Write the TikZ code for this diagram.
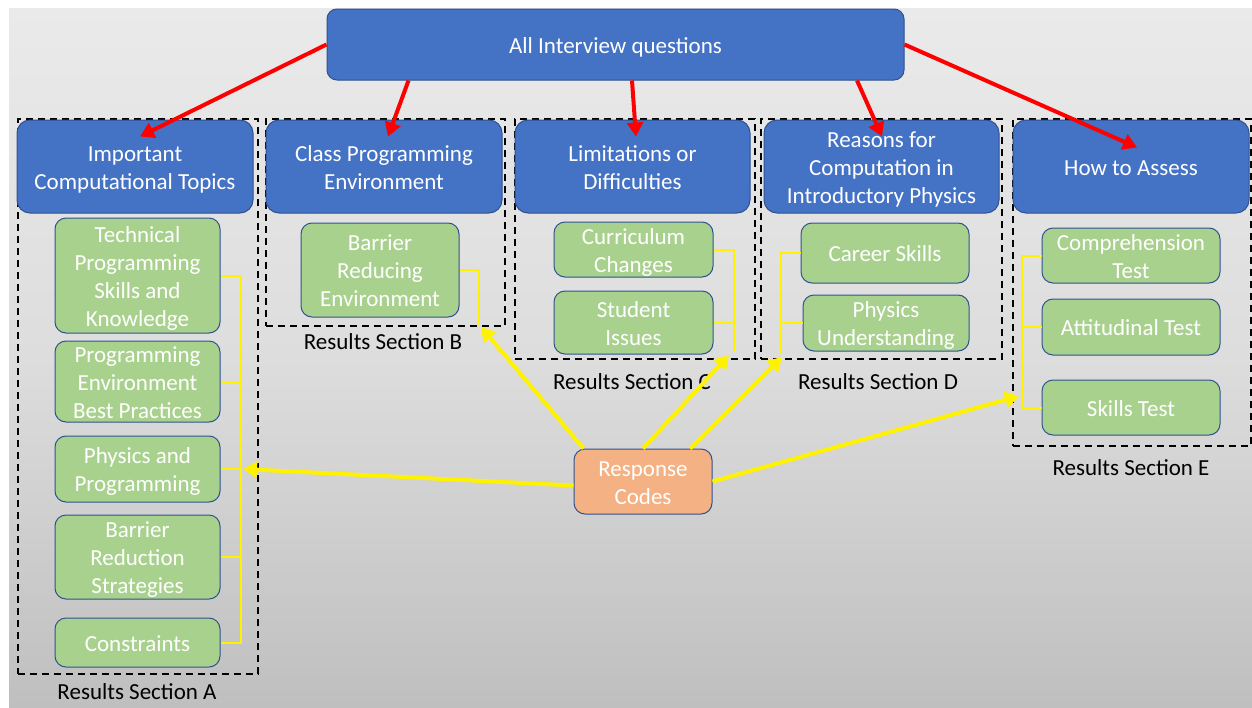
\documentclass[tikz,border=0pt]{standalone}
\usepackage{fontspec}
\setmainfont{Carlito}
\usetikzlibrary{arrows.meta}
\definecolor{hblue}{HTML}{4472C4}
\definecolor{hborder}{HTML}{2F528F}
\definecolor{gfill}{HTML}{A9D18E}
\definecolor{ofill}{HTML}{F4B183}
\definecolor{bgtop}{HTML}{EAEAEA}
\definecolor{bgmid}{HTML}{DDDDDD}
\definecolor{bgbot}{HTML}{BFBFBF}
\newcommand\lt[1]{\raisebox{0pt}[\height][\dimexpr\depth-6pt\relax]{\begin{tabular}{@{}c@{}}#1\end{tabular}}}
\begin{document}
\begin{tikzpicture}[x=1pt,y=-1pt,
  font=\fontsize{23}{28}\selectfont,
  header/.style={draw=hborder, line width=1pt, fill=hblue, text=white, rounded corners=13pt, inner sep=0pt},
  sub/.style={draw=hborder, line width=1pt, fill=gfill, text=white, rounded corners=11pt, inner sep=0pt},
  resp/.style={draw=hborder, line width=1pt, fill=ofill, text=white, rounded corners=11pt, inner sep=0pt},
  frame/.style={draw=black, line width=2pt, dash pattern=on 7pt off 5pt, inner sep=0pt, anchor=north west},
  redarrow/.style={draw=red, line width=4pt, -{Triangle[length=14pt,width=16pt]}},
  yarrow/.style={draw=yellow, line width=4pt, -{Triangle[length=14pt,width=16pt]}},
  bracket/.style={draw=yellow, line width=2pt},
  seclabel/.style={text=black, inner sep=0pt}]

\useasboundingbox (0,0) rectangle (1252,707);
\fill[white] (0,0) rectangle (1252,707);
\shade[top color=bgtop, bottom color=bgbot, middle color=bgmid] (9,8) rectangle (1252,707);

% frames
\node[frame, minimum width=240pt, minimum height=555pt] (fA) at (17,118) {};
\node[frame, minimum width=239pt, minimum height=207pt] (fB) at (265,118) {};
\node[frame, minimum width=240pt, minimum height=240pt] (fC) at (514,118) {};
\node[frame, minimum width=241pt, minimum height=240pt] (fD) at (760,118) {};
\node[frame, minimum width=238pt, minimum height=327pt] (fE) at (1012,118) {};

% section labels
\node[seclabel] (lA) at (137,692) {Results Section A};
\node[seclabel] (lB) at (383,342) {Results Section B};
\node[seclabel] (lC) at (632,382) {Results Section C};
\node[seclabel] (lD) at (878,382) {Results Section D};
\node[seclabel] (lE) at (1131,468) {Results Section E};

% top
\node[header, rounded corners=10pt, minimum width=577pt, minimum height=71pt] (top) at (615.5,44.5) {\lt{All Interview questions}};

% headers
\node[header, minimum width=236pt, minimum height=93pt] (hA) at (135,166.5) {\lt{Important\\Computational Topics}};
\node[header, minimum width=236pt, minimum height=93pt] (hB) at (384,166.5) {\lt{Class Programming\\Environment}};
\node[header, minimum width=235pt, minimum height=93pt] (hC) at (632.5,166.5) {\lt{Limitations or\\Difficulties}};
\node[header, minimum width=235pt, minimum height=93pt] (hD) at (881.5,166.5) {\lt{Reasons for\\Computation in\\Introductory Physics}};
\node[header, minimum width=236pt, minimum height=93pt] (hE) at (1131,166.5) {\lt{How to Assess}};

% A column
\node[sub, minimum width=165pt, minimum height=115pt] (tp) at (137.5,275.5) {\lt{Technical\\Programming\\Skills and\\Knowledge}};
\node[sub, minimum width=165pt, minimum height=81pt] (pe) at (137.5,381.5) {\lt{Programming\\Environment\\Best Practices}};
\node[sub, minimum width=165pt, minimum height=66pt] (pp) at (137.5,469) {\lt{Physics and\\Programming}};
\node[sub, minimum width=165pt, minimum height=84pt] (br) at (137.5,557) {\lt{Barrier\\Reduction\\Strategies}};
\node[sub, minimum width=165pt, minimum height=49pt] (con) at (137.5,642.5) {\lt{Constraints}};

% B
\node[sub, minimum width=158pt, minimum height=94pt] (bre) at (380,270) {\lt{Barrier\\Reducing\\Environment}};

% C
\node[sub, minimum width=159pt, minimum height=55pt] (cc) at (633.5,249.5) {\lt{Curriculum\\Changes}};
\node[sub, minimum width=159pt, minimum height=63pt] (si) at (633.5,322.5) {\lt{Student\\Issues}};

% D
\node[sub, minimum width=168pt, minimum height=60pt] (cs) at (885,253) {\lt{Career Skills}};
\node[sub, minimum width=166pt, minimum height=56pt] (pu) at (886,323) {\lt{Physics\\Understanding}};

% E
\node[sub, minimum width=178pt, minimum height=55pt] (ct) at (1131,255.5) {\lt{Comprehension\\Test}};
\node[sub, minimum width=178pt, minimum height=56pt] (at) at (1131,327) {\lt{Attitudinal Test}};
\node[sub, minimum width=178pt, minimum height=55pt] (st) at (1131,407.5) {\lt{Skills Test}};

% response codes
\node[resp, minimum width=138pt, minimum height=65pt] (rc) at (643,481.5) {\lt{Response\\Codes}};

% brackets
\coordinate (xa) at (241,0);
\draw[bracket] (tp.east) -- (tp.east -| xa) -- (con.east -| xa) -- (con.east);
\foreach \n in {pe,pp,br} \draw[bracket] (\n.east) -- (\n.east -| xa);

\coordinate (xb) at (479,325);
\draw[bracket] (bre.east) -| (xb);

\coordinate (xc) at (734,351);
\draw[bracket] (cc.east) -| (xc);
\draw[bracket] (si.east) -- (si.east -| xc);

\coordinate (xd) at (781,354);
\draw[bracket] (cs.west) -| (xd);
\draw[bracket] (pu.west) -- (pu.west -| xd);

\coordinate (xe) at (1022,0);
\draw[bracket] (ct.west) -- (ct.west -| xe) -- (st.west -| xe) -- (st.west);
\draw[bracket] (at.west) -- (at.west -| xe);
\coordinate (ye) at (1019,396);

% yellow arrows
\draw[yarrow] ([yshift=-4]rc.west) -- ([xshift=2]pp.east -| xa);
\draw[yarrow] ([xshift=10]rc.north west) -- ([shift={(2,2)}]xb);
\draw[yarrow] (rc.north) -- ([shift={(-5,4)}]xc);
\draw[yarrow] ([xshift=47]rc.north) -- ([shift={(1,3)}]xd);
\draw[yarrow] (rc.east) -- (ye);

% red arrows
\draw[redarrow] (top.west) -- ([shift={(5,17)}]hA.north);
\draw[redarrow] ([xshift=82]top.south west) -- ([shift={(4,17)}]hB.north);
\draw[redarrow] ([xshift=16.5]top.south) -- ([shift={(3.5,17)}]hC.north);
\draw[redarrow] ([xshift=241.5]top.south) -- ([shift={(0.5,17)}]hD.north);
\draw[redarrow] (top.east) -- ([shift={(6,28)}]hE.north);

\end{tikzpicture}
\end{document}
